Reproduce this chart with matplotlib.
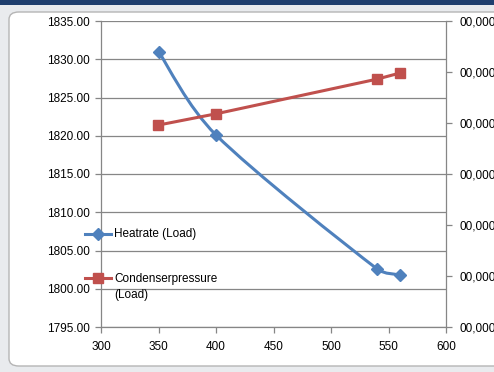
import numpy as np
import matplotlib.pyplot as plt
from matplotlib.path import Path
from matplotlib.patches import PathPatch, FancyBboxPatch, Rectangle
from matplotlib.lines import Line2D

plt.rcParams['font.family'] = ['Liberation Sans', 'DejaVu Sans']

# data
load = [350, 400, 540, 560]
heatrate = [1831.0, 1820.1, 1802.6, 1801.8]
condenser = [3.96, 4.18, 4.86, 4.98]
left_ticks = [1795, 1800, 1805, 1810, 1815, 1820, 1825, 1830, 1835]
x_ticks = [300, 350, 400, 450, 500, 550, 600]
right_ticks = [0, 1, 2, 3, 4, 5, 6]
right_labels = ['00,000'] * 7

blue = '#4F81BD'
red = '#C0504D'
grid = '#868686'
W, H = 494, 372


def fx(px):
    return px / W


def fy(py):
    return 1 - py / H


fig = plt.figure(figsize=(W / 100, H / 100), dpi=100)
fig.patch.set_facecolor('#e9ebee')
# window chrome around the chart
fig.add_artist(Rectangle((0, fy(5)), 1, 5 / H, transform=fig.transFigure,
                         facecolor='#1f3f6e', edgecolor='none', zorder=-5))
fig.add_artist(FancyBboxPatch((fx(9), fy(366)), 500 / W, 354 / H,
                              boxstyle='round,pad=0,rounding_size=0.02',
                              transform=fig.transFigure, facecolor='white',
                              edgecolor='#b5b5b5', linewidth=1, zorder=-4))

ax = fig.add_axes([fx(101), fy(327), 345 / W, 306 / H])
ax.set_facecolor('none')
ax.set_xlim(300, 600)
ax.set_ylim(1795, 1835)
ax.set_xticks(x_ticks)
ax.set_yticks(left_ticks)
ax.set_yticklabels(['%.2f' % v for v in left_ticks])
ax.yaxis.grid(True, color=grid, linewidth=0.9)
ax.set_axisbelow(True)
for s in ax.spines.values():
    s.set_color(grid)
    s.set_linewidth(0.9)
ax.spines['top'].set_visible(False)
ax.tick_params(axis='both', colors=grid, length=4, width=0.9, labelcolor='black',
               labelsize=8.5)
ax.tick_params(axis='x', pad=6)
ax.tick_params(axis='y', pad=4)

# smoothed heatrate line (excel style bezier through the points),
# worked out in screen space so the handles can be kept short
pts = ax.transData.transform(np.column_stack([load, heatrate]))
n = len(pts)
verts = [pts[0]]
codes = [Path.MOVETO]
for i in range(n - 1):
    p0 = pts[max(i - 1, 0)]
    p1 = pts[i]
    p2 = pts[i + 1]
    p3 = pts[min(i + 2, n - 1)]
    seg = np.hypot(*(p2 - p1))
    t1 = (p2 - p0) / 6
    t2 = (p3 - p1) / 6
    for t in (t1, t2):
        ln = np.hypot(*t)
        if ln > seg * 0.4:
            t *= seg * 0.4 / ln
    verts += [p1 + t1, p2 - t2, p2]
    codes += [Path.CURVE4] * 3
verts = ax.transData.inverted().transform(np.array(verts))
ax.add_patch(PathPatch(Path(verts, codes), fill=False, edgecolor=blue,
                       linewidth=2.2, capstyle='round', joinstyle='round'))
ax.plot(load, heatrate, linestyle='none', marker='D', markersize=6,
        color=blue)

ax2 = ax.twinx()
ax2.set_ylim(0, 6)
ax2.set_yticks(right_ticks)
ax2.set_yticklabels(right_labels)
for s in ax2.spines.values():
    s.set_visible(False)
ax2.tick_params(axis='y', colors=grid, length=4, width=0.9, labelcolor='black',
                labelsize=8.5, pad=6)
ax2.plot(load, condenser, color=red, linewidth=2.2, marker='s', markersize=7)

# legend, drawn by hand so the red key sits on the first text line
fig.add_artist(Line2D([fx(85), fx(111)], [fy(234), fy(234)], color=blue,
                      linewidth=2.2, transform=fig.transFigure))
fig.add_artist(Line2D([fx(98)], [fy(234)], color=blue, marker='D',
                      markersize=6, transform=fig.transFigure))
fig.add_artist(Line2D([fx(85), fx(111)], [fy(278), fy(278)], color=red,
                      linewidth=2.2, transform=fig.transFigure))
fig.add_artist(Line2D([fx(98)], [fy(278)], color=red, marker='s',
                      markersize=7, transform=fig.transFigure))
fig.text(fx(114), fy(234), 'Heatrate (Load)', fontsize=8.5, va='center')
fig.text(fx(114), fy(287), 'Condenserpressure\n(Load)', fontsize=8.5,
         va='center', linespacing=1.5)

fig.savefig('out.png', dpi=100, facecolor=fig.get_facecolor())
